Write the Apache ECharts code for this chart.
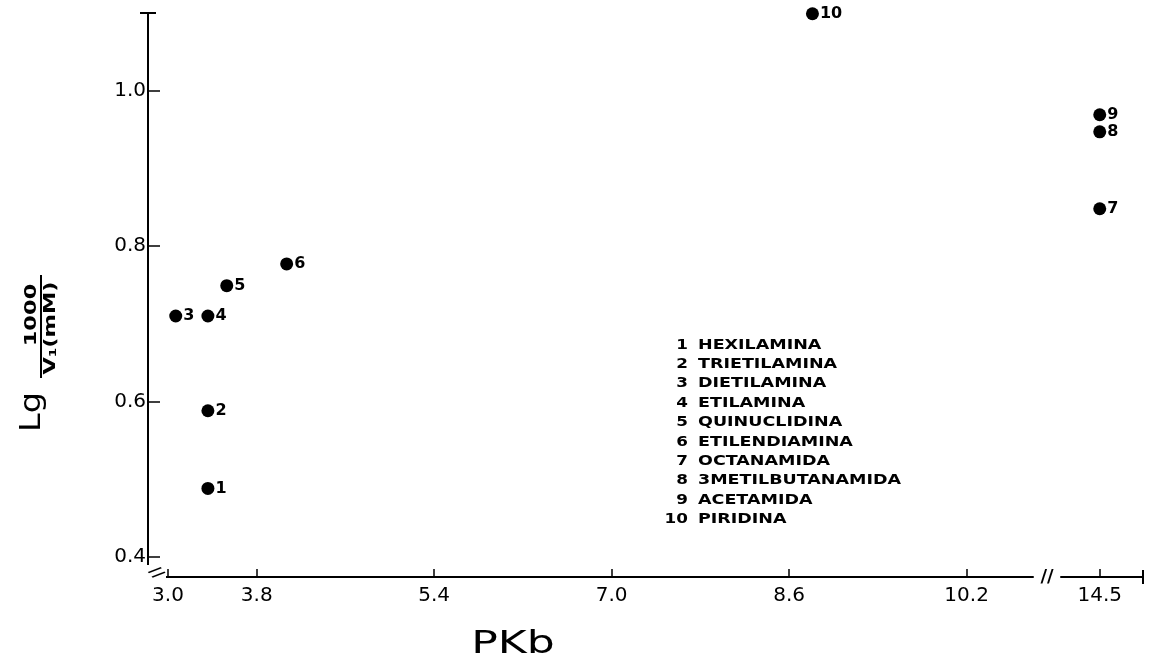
<!DOCTYPE html>
<html><head><meta charset="utf-8">
<script src="https://cdn.jsdelivr.net/npm/echarts@6/dist/echarts.min.js"></script>
<style>html,body{margin:0;padding:0;background:#fff}#c{width:1150px;height:660px}</style>
</head><body><div id="c"></div>
<script>
const ids = ['1','2','3','4','5','6','7','8','9','10'];
const pkb = [3.36, 3.36, 3.07, 3.36, 3.53, 4.07, 14.5, 14.5, 14.5, 8.81];
const lgValues = [0.488, 0.588, 0.710, 0.710, 0.749, 0.777, 0.848, 0.947, 0.969, 1.099];
const compounds = ['HEXILAMINA','TRIETILAMINA','DIETILAMINA','ETILAMINA','QUINUCLIDINA','ETILENDIAMINA','OCTANAMIDA','3METILBUTANAMIDA','ACETAMIDA','PIRIDINA'];
const xTicks = [3.0, 3.8, 5.4, 7.0, 8.6, 10.2, 14.5];
const yTicks = [0.4, 0.6, 0.8, 1.0];
const xMin = 2.82, xMax = 14.89, yMin = 0.374, yMax = 1.1;
const xBreak = {start: 10.8, end: 14.15, gap: 0.25};

const FONT = 'DejaVu Sans';
const chart = echarts.init(document.getElementById('c'), null, {renderer: 'canvas'});
const option = {
  backgroundColor: '#fff',
  animation: false,
  grid: {left: 148, right: 7, top: 13, bottom: 83, containLabel: false},
  xAxis: {
    type: 'value', min: xMin, max: xMax,
    breaks: [{start: xBreak.start, end: xBreak.end, gap: xBreak.gap}],
    breakArea: {show: false, expandOnClick: false},
    axisLine: {show: true, lineStyle: {color: '#000', width: 2}},
    axisTick: {show: true, inside: true, length: 8, customValues: xTicks, lineStyle: {color: '#000', width: 1.5}},
    axisLabel: {show: true, customValues: xTicks, margin: 9, color: '#000', fontSize: 20, fontFamily: FONT,
      formatter: v => Number(v).toFixed(1)},
    splitLine: {show: false}
  },
  yAxis: {
    type: 'value', min: yMin, max: yMax,
    axisLine: {show: true, lineStyle: {color: '#000', width: 2}},
    axisTick: {show: true, inside: true, length: 12, customValues: yTicks, lineStyle: {color: '#000', width: 1.5}},
    axisLabel: {show: true, customValues: yTicks, margin: 2, color: '#000', fontSize: 20, fontFamily: FONT,
      padding: [0, 0, 10, 0], formatter: v => Number(v).toFixed(1)},
    splitLine: {show: false}
  },
  series: [{
    type: 'scatter',
    symbol: 'circle', symbolSize: 13,
    itemStyle: {color: '#000', opacity: 1},
    emphasis: {disabled: true},
    data: pkb.map((x, i) => ({value: [x, lgValues[i]], name: ids[i]})),
    label: {show: true, position: 'right', distance: 1, formatter: '{b}', color: '#000', opacity: 1,
      fontSize: 16, fontWeight: 'bold', fontFamily: FONT}
  }]
};
chart.setOption(option);

// decorations placed via the library's coordinate conversion
const gridBottom = chart.convertToPixel({yAxisIndex: 0}, yMin);
const gridTop = chart.convertToPixel({yAxisIndex: 0}, yMax);
const xLeft = chart.convertToPixel({xAxisIndex: 0}, xMin);
const xRight = chart.convertToPixel({xAxisIndex: 0}, xMax);
const bs = chart.convertToPixel({xAxisIndex: 0}, xBreak.start);
const be = chart.convertToPixel({xAxisIndex: 0}, xBreak.end);
const bMid = (bs + be) / 2;

const graphics = [];
// break marks on x axis
graphics.push({type: 'rect', shape: {x: bMid - 11, y: gridBottom - 4, width: 22, height: 8}, style: {fill: '#fff'}, z: 50});
graphics.push({type: 'text', x: bMid, y: gridBottom, style: {text: '//', font: 'bold 18px ' + FONT, fill: '#000', align: 'center', verticalAlign: 'middle'}, z: 51});
// corner break mark
graphics.push({type: 'rect', shape: {x: xLeft - 2, y: gridBottom - 12, width: 20, height: 14}, style: {fill: '#fff'}, z: 50});
graphics.push({type: 'text', x: xLeft + 8, y: gridBottom - 4, style: {text: '//', font: 'bold 16px ' + FONT, fill: '#000', align: 'center', verticalAlign: 'middle'}, rotation: -0.9, z: 51});
// caps
graphics.push({type: 'line', shape: {x1: xLeft - 8, y1: gridTop, x2: xLeft + 8, y2: gridTop}, style: {stroke: '#000', lineWidth: 2}, z: 50});
graphics.push({type: 'line', shape: {x1: xRight, y1: gridBottom - 7, x2: xRight, y2: gridBottom + 7}, style: {stroke: '#000', lineWidth: 2}, z: 50});
// x axis title
graphics.push({type: 'text', x: 513, y: 645, scaleX: 1.38, style: {text: 'PKb', font: '32px ' + FONT, fill: '#000', align: 'center', verticalAlign: 'middle'}});
// y axis title (rotated fraction)
graphics.push({
  type: 'group', x: 41, y: 352, rotation: Math.PI / 2,
  children: [
    {type: 'text', x: -60, y: -8, scaleX: 1.2, style: {text: 'Lg', font: '28px ' + FONT, fill: '#000', align: 'center', verticalAlign: 'middle'}},
    {type: 'line', shape: {x1: -26, y1: 0, x2: 77, y2: 0}, style: {stroke: '#000', lineWidth: 2}},
    {type: 'text', x: 37, y: -9, scaleX: 1.5, style: {text: '1000', font: 'bold 15px ' + FONT, fill: '#000', align: 'center', verticalAlign: 'middle'}},
    {type: 'text', x: 24, y: 10, scaleX: 1.5, style: {text: '{v|V}{s|1}{v|(mM)}', align: 'center', verticalAlign: 'middle', fill: '#000',
      rich: {v: {font: 'bold 15px ' + FONT, fill: '#000'}, s: {font: 'bold 9px ' + FONT, fill: '#000', verticalAlign: 'bottom'}}}}
  ]
});
// compound list
const listX = 688, listY = 345, listStep = 19.4;
compounds.forEach((name, i) => {
  graphics.push({type: 'text', x: listX, y: listY + i * listStep, scaleX: 1.2, style: {text: ids[i], font: 'bold 14px ' + FONT, fill: '#000', align: 'right', verticalAlign: 'middle'}});
  graphics.push({type: 'text', x: listX + 10, y: listY + i * listStep, scaleX: 1.25, style: {text: name, font: 'bold 14px ' + FONT, fill: '#000', align: 'left', verticalAlign: 'middle'}});
});
chart.setOption({graphic: graphics});
</script>
</body></html>
